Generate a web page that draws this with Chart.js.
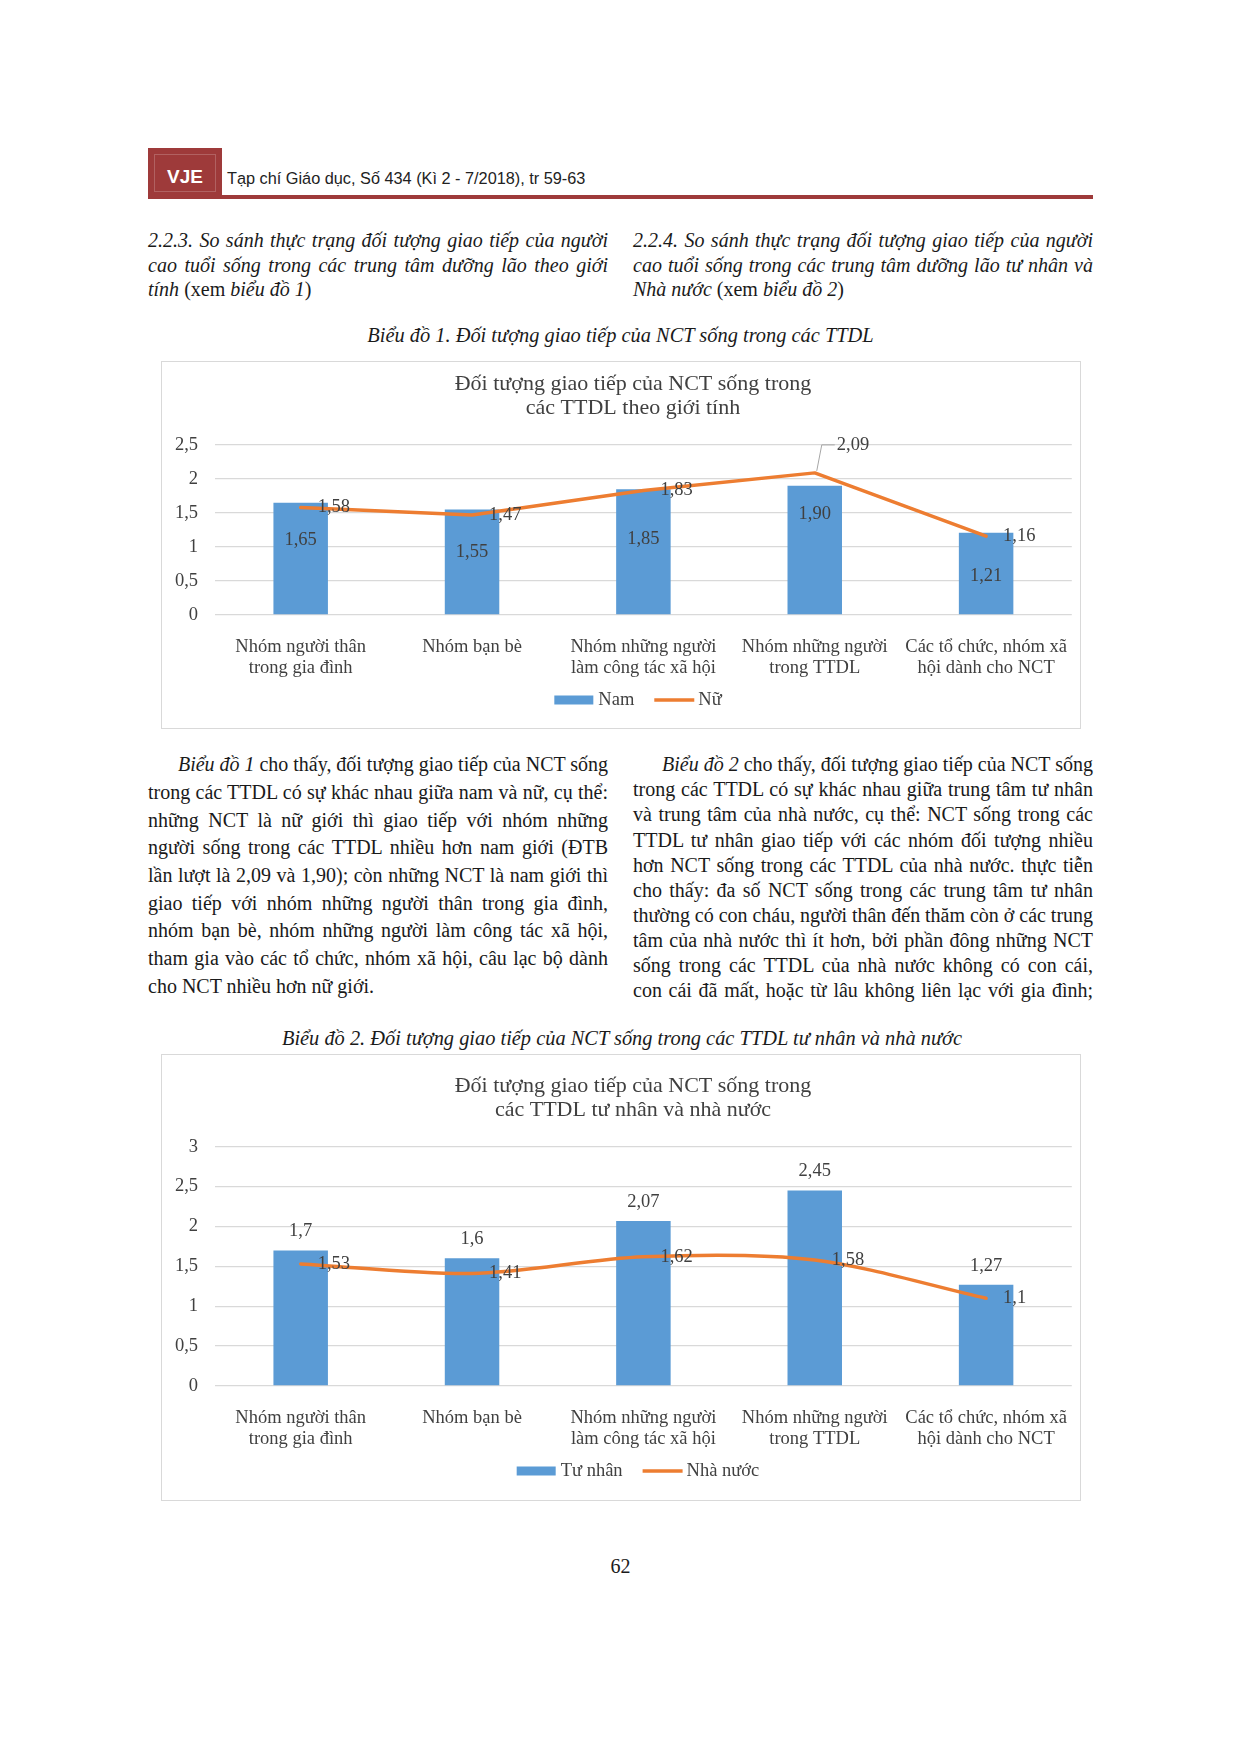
<!DOCTYPE html>
<html lang="vi">
<head>
<meta charset="utf-8">
<title>Tạp chí Giáo dục - tr 62</title>
<script src="https://cdn.jsdelivr.net/npm/chart.js@4.4.1/dist/chart.umd.min.js"></script>
<style>
  html, body { margin: 0; padding: 0; background: #fff; }
  #page { position: relative; width: 1240px; height: 1753px; overflow: hidden;
          font-family: "Liberation Serif", "Times New Roman", serif; color: #1a1a1a; }
  .ln { position: absolute; white-space: nowrap; font-size: 20px; line-height: 24px; }
  .cap { font-size: 20.4px; }
  .box { position: absolute; border: 1.5px solid #d9d9d9; box-sizing: border-box; pointer-events: none; }
  canvas { position: absolute; }
  #vje { position: absolute; left: 148px; top: 148px; width: 74px; height: 50px; background: #9e3a3a;
         box-shadow: inset 0 0 0 6px #9e3a3a, inset 0 0 0 7px rgba(255,255,255,0.2); }
  #rule { position: absolute; left: 148px; top: 195px; width: 945px; height: 4px; background: #9e3a3a; }
  .sans { position: absolute; white-space: nowrap; font-family: "Liberation Sans", Arial, sans-serif; }
</style>
</head>
<body>
<div id="page">
  <div id="vje"></div>
  <div id="rule"></div>
  <div class="sans" style="left:148px; width:74px; text-align:center; top:165.7px; font-size:19px; line-height:22px; font-weight:bold; color:#fff;">VJE</div>
  <div class="sans" style="left:227px; top:168.3px; font-size:16.3px; line-height:20px; color:#222;">Tạp chí Giáo dục, Số 434 (Kì 2 - 7/2018), tr 59-63</div>

  <canvas id="chart1" width="918" height="366" style="left:162px; top:362px;"></canvas>
  <div class="box" style="left:161px; top:361px; width:920px; height:368px;"></div>

  <canvas id="chart2" width="918" height="445" style="left:162px; top:1055px;"></canvas>
  <div class="box" style="left:161px; top:1054px; width:920px; height:447px;"></div>
</div>

<script>
// ==========================
// DATA
// ==========================
const categories = [
  ["Nhóm người thân", "trong gia đình"],
  ["Nhóm bạn bè"],
  ["Nhóm những người", "làm công tác xã hội"],
  ["Nhóm những người", "trong TTDL"],
  ["Các tổ chức, nhóm xã", "hội dành cho NCT"]
];

// Biểu đồ 1: theo giới tính
const nam = [1.65, 1.55, 1.85, 1.90, 1.21];
const nu  = [1.58, 1.47, 1.83, 2.09, 1.16];
const yTicks1 = [0, 0.5, 1, 1.5, 2, 2.5];

// Biểu đồ 2: tư nhân / nhà nước
const tuNhan  = [1.7, 1.6, 2.07, 2.45, 1.27];
const nhaNuoc = [1.53, 1.41, 1.62, 1.58, 1.1];
const yTicks2 = [0, 0.5, 1, 1.5, 2, 2.5, 3];

const BLUE = '#5b9bd5';
const ORANGE = '#ed7d31';
const CHART_TXT = '#404040';

// ==========================
// PAGE TEXT
// ==========================
const page = document.getElementById('page');
const toJustify = [];

function line(html, x, baseline, width, justify, align, cls) {
  const d = document.createElement('div');
  d.className = 'ln' + (cls ? ' ' + cls : '');
  d.innerHTML = '<span>' + html + '</span>';
  d.style.left = x + 'px';
  d.style.top = (baseline - 18.75) + 'px';
  if (width) d.style.width = width + 'px';
  if (align) d.style.textAlign = align;
  page.appendChild(d);
  if (justify) toJustify.push([d, width]);
}

function block(lines, x, width, base, step, indent) {
  lines.forEach((t, i) => {
    const ind = (i === 0 && indent) ? indent : 0;
    line(t, x + ind, base + i * step, width - ind, i < lines.length - 1);
  });
}

block([
  "<i>2.2.3. So sánh thực trạng đối tượng giao tiếp của người</i>",
  "<i>cao tuổi sống trong các trung tâm dưỡng lão theo giới</i>",
  "<i>tính</i> (xem <i>biểu đồ 1</i>)"
], 148, 460, 247, 24.5, 0);

block([
  "<i>2.2.4. So sánh thực trạng đối tượng giao tiếp của người</i>",
  "<i>cao tuổi sống trong các trung tâm dưỡng lão tư nhân và</i>",
  "<i>Nhà nước</i> (xem <i>biểu đồ 2</i>)"
], 633, 460, 247, 24.5, 0);

line("<i>Biểu đồ 1. Đối tượng giao tiếp của NCT sống trong các TTDL</i>", 148, 342, 945, false, 'center', 'cap');

block([
  "<i>Biểu đồ 1</i> cho thấy, đối tượng giao tiếp của NCT sống",
  "trong các TTDL có sự khác nhau giữa nam và nữ, cụ thể:",
  "những NCT là nữ giới thì giao tiếp với nhóm những",
  "người sống trong các TTDL nhiều hơn nam giới (ĐTB",
  "lần lượt là 2,09 và 1,90); còn những NCT là nam giới thì",
  "giao tiếp với nhóm những người thân trong gia đình,",
  "nhóm bạn bè, nhóm những người làm công tác xã hội,",
  "tham gia vào các tổ chức, nhóm xã hội, câu lạc bộ dành",
  "cho NCT nhiều hơn nữ giới."
], 148, 460, 771, 27.7, 30);

const right = [
  "<i>Biểu đồ 2</i> cho thấy, đối tượng giao tiếp của NCT sống",
  "trong các TTDL có sự khác nhau giữa trung tâm tư nhân",
  "và trung tâm của nhà nước, cụ thể: NCT sống trong các",
  "TTDL tư nhân giao tiếp với các nhóm đối tượng nhiều",
  "hơn NCT sống trong các TTDL của nhà nước. thực tiễn",
  "cho thấy: đa số NCT sống trong các trung tâm tư nhân",
  "thường có con cháu, người thân đến thăm còn ở các trung",
  "tâm của nhà nước thì ít hơn, bởi phần đông những NCT",
  "sống trong các TTDL của nhà nước không có con cái,",
  "con cái đã mất, hoặc từ lâu không liên lạc với gia đình;"
];
right.forEach((t, i) => {
  const ind = i === 0 ? 29 : 0;
  line(t, 633 + ind, 771 + i * 25.1, 460 - ind, true);
});

line("<i>Biểu đồ 2. Đối tượng giao tiếp của NCT sống trong các TTDL tư nhân và nhà nước</i>", 148, 1045, 948, false, 'center', 'cap');
line("62", 148, 1573, 945, false, 'center');

function justifyAll() {
  toJustify.forEach(([d, w]) => {
    const s = d.firstChild;
    const nat = s.getBoundingClientRect().width;
    const text = s.textContent;
    const spaces = (text.match(/ /g) || []).length;
    if (nat < w && spaces) d.style.wordSpacing = ((w - nat) / spaces) + 'px';
    else if (nat > w) d.style.letterSpacing = ((w - nat) / text.length) + 'px';
  });
}

// ==========================
// CHART HELPERS
// ==========================
Chart.defaults.font.family = '"Liberation Serif", "Times New Roman", serif';
Chart.defaults.color = CHART_TXT;

const comma = v => String(v).replace('.', ',');

// two-line chart title, centred a little right of the canvas centre like the original
const chartTitle = {
  id: 'chartTitle',
  afterDraw(chart, args, opts) {
    const ctx = chart.ctx;
    ctx.save();
    ctx.font = '22px "Liberation Serif"';
    ctx.fillStyle = CHART_TXT;
    ctx.textAlign = 'center';
    ctx.textBaseline = 'alphabetic';
    opts.text.forEach((t, i) => ctx.fillText(t, opts.cx, opts.base + i * 23.5));
    ctx.restore();
  }
};

// data labels
const valueLabels = {
  id: 'valueLabels',
  afterDatasetsDraw(chart, args, opts) {
    const ctx = chart.ctx;
    ctx.save();
    ctx.font = '18.5px "Liberation Serif"';
    ctx.fillStyle = CHART_TXT;
    ctx.textBaseline = 'middle';
    chart.data.datasets.forEach((ds, di) => {
      const meta = chart.getDatasetMeta(di);
      meta.data.forEach((el, i) => {
        const txt = opts.fmt(ds.data[i]);
        if (ds.type === 'bar') {
          ctx.textAlign = 'center';
          let y;
          if (opts.barPos === 'center') {
            y = (el.y + el.base) / 2 + (opts.barShift ? opts.barShift[i] : 0);
          } else {
            y = el.y - 19;
          }
          ctx.fillText(txt, el.x, y);
        } else {
          ctx.textAlign = 'left';
          const c = opts.callout && opts.callout[i];
          if (c) {
            ctx.strokeStyle = '#a6a6a6';
            ctx.lineWidth = 1;
            ctx.beginPath();
            ctx.moveTo(el.x + 2, el.y - 2);
            ctx.lineTo(el.x + 7, el.y + c.dy);
            ctx.lineTo(el.x + c.dx - 2, el.y + c.dy);
            ctx.stroke();
            ctx.fillText(txt, el.x + c.dx, el.y + c.dy);
          } else {
            ctx.fillText(txt, el.x + 17, el.y);
          }
        }
      });
    });
    ctx.restore();
  }
};

// legend under the axis
const bottomLegend = {
  id: 'bottomLegend',
  afterDraw(chart, args, opts) {
    const ctx = chart.ctx;
    ctx.save();
    ctx.font = '18.5px "Liberation Serif"';
    const items = chart.data.datasets.map(ds => ({
      text: ds.label,
      bar: ds.type === 'bar',
      color: ds.type === 'bar' ? ds.backgroundColor : ds.borderColor
    }));
    let total = 0;
    items.forEach(it => { it.w = 44 + ctx.measureText(it.text).width; total += it.w; });
    total += opts.gap * (items.length - 1);
    let x = opts.cx - total / 2;
    const y = chart.chartArea.bottom + opts.offset;
    items.forEach(it => {
      if (it.bar) {
        ctx.fillStyle = it.color;
        ctx.fillRect(x, y - 4.5, 39, 9);
      } else {
        ctx.strokeStyle = it.color;
        ctx.lineWidth = 3.5;
        ctx.beginPath();
        ctx.moveTo(x, y);
        ctx.lineTo(x + 40, y);
        ctx.stroke();
      }
      ctx.fillStyle = CHART_TXT;
      ctx.textAlign = 'left';
      ctx.textBaseline = 'middle';
      ctx.fillText(it.text, x + 44, y);
      x += it.w + opts.gap;
    });
    ctx.restore();
  }
};

function makeChart(id, cfg) {
  return new Chart(document.getElementById(id), {
    type: 'bar',
    data: {
      labels: categories,
      datasets: [
        {
          type: 'bar', label: cfg.barLabel, data: cfg.barData,
          backgroundColor: BLUE, order: 2,
          categoryPercentage: 1, barPercentage: 0.318
        },
        {
          type: 'line', label: cfg.lineLabel, data: cfg.lineData,
          borderColor: ORANGE, backgroundColor: ORANGE, borderWidth: 3.5,
          pointRadius: 0, tension: cfg.tension, order: 1, fill: false,
          borderCapStyle: 'round', borderJoinStyle: 'round'
        }
      ]
    },
    options: {
      responsive: false,
      animation: false,
      devicePixelRatio: 1,
      layout: { padding: { left: 0, right: 1, top: cfg.plotTop, bottom: 0 } },
      plugins: {
        legend: { display: false },
        title: { display: false },
        tooltip: { enabled: false },
        chartTitle: { text: cfg.title, cx: 471, base: cfg.titleBase },
        valueLabels: cfg.labels,
        bottomLegend: { cx: 476, gap: 20, offset: 85 }
      },
      scales: {
        x: {
          grid: { display: false },
          border: { display: false },
          ticks: {
            autoSkip: false, maxRotation: 0, padding: 13,
            color: CHART_TXT, font: { size: 18.5, lineHeight: 1.162 }
          },
          afterFit: s => { s.height = cfg.xHeight; }
        },
        y: {
          min: cfg.ticks[0],
          max: cfg.ticks[cfg.ticks.length - 1],
          grid: { color: '#d9d9d9', lineWidth: 1.3, drawTicks: false },
          border: { display: false },
          ticks: {
            padding: 17, color: CHART_TXT, font: { size: 18.5 },
            callback: v => comma(v)
          },
          afterBuildTicks: s => { s.ticks = cfg.ticks.map(v => ({ value: v })); },
          afterFit: s => { s.width = 53; }
        }
      }
    },
    plugins: [chartTitle, valueLabels, bottomLegend]
  });
}

function drawAll() {
  justifyAll();

  makeChart('chart1', {
    title: ['Đối tượng giao tiếp của NCT sống trong', 'các TTDL theo giới tính'],
    titleBase: 28,
    plotTop: 83,
    barLabel: 'Nam', barData: nam,
    lineLabel: 'Nữ', lineData: nu,
    tension: 0,
    ticks: yTicks1,
    xHeight: 113,
    labels: {
      fmt: v => v.toFixed(2).replace('.', ','),
      barPos: 'center',
      barShift: [-18, -10, -13, -36, 3],
      callout: { 3: { dx: 22, dy: -28 } }
    }
  });

  makeChart('chart2', {
    title: ['Đối tượng giao tiếp của NCT sống trong', 'các TTDL tư nhân và nhà nước'],
    titleBase: 37,
    plotTop: 91.7,
    barLabel: 'Tư nhân', barData: tuNhan,
    lineLabel: 'Nhà nước', lineData: nhaNuoc,
    tension: 0.3,
    ticks: yTicks2,
    xHeight: 114,
    labels: { fmt: comma, barPos: 'end' }
  });
}

if (document.fonts && document.fonts.ready) {
  document.fonts.ready.then(drawAll);
} else {
  window.addEventListener('load', drawAll);
}
</script>
</body>
</html>
